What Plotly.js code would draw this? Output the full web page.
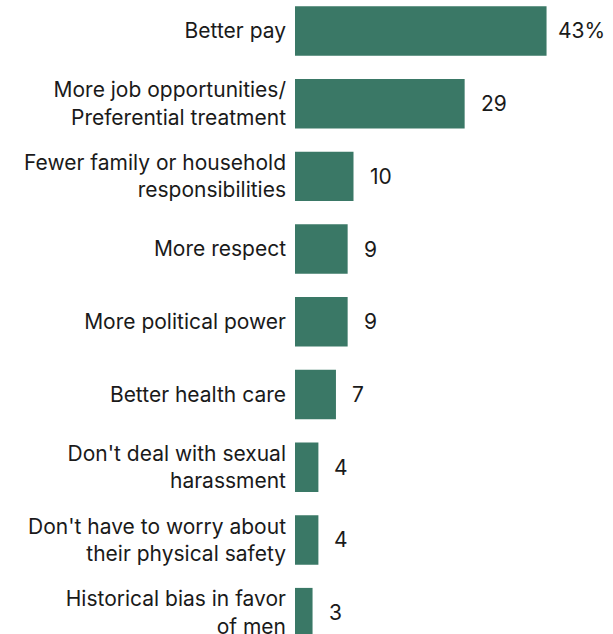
<!DOCTYPE html>
<html><head><meta charset="utf-8">
<script src="https://cdn.plot.ly/plotly-3.0.1.min.js"></script>
<style>html,body{margin:0;padding:0;background:#fff}#chart{width:613px;height:634px}</style>
</head><body><div id="chart"></div>
<script>
const categories = [
  "Better pay",
  "More job opportunities/<br>Preferential treatment",
  "Fewer family or household<br>responsibilities",
  "More respect",
  "More political power",
  "Better health care",
  "Don't deal with sexual<br>harassment",
  "Don't have to worry about<br>their physical safety",
  "Historical bias in favor<br>of men"
];
const values = [43, 29, 10, 9, 9, 7, 4, 4, 3];
const valueLabels = ["43%", "29", "10", "9", "9", "7", "4", "4", "3"];

const FONT = "Inter, Liberation Sans, Arial, sans-serif";
const trace = {
  type: "bar", orientation: "h",
  x: values, y: categories,
  marker: {color: "#3a7866"},
  hoverinfo: "none"
};
const annotations = values.map((v, i) => ({
  x: v, y: categories[i], xref: "x", yref: "y",
  text: valueLabels[i], showarrow: false,
  xanchor: "left", xshift: i === 0 ? 9 : 14,
  font: {family: FONT, size: 21, color: "#1a1a1a"}
}));
const layout = {
  width: 613, height: 634,
  margin: {l: 295, r: 0, t: 0, b: 0, pad: 0},
  paper_bgcolor: "#fff", plot_bgcolor: "#fff",
  bargap: 0.32,
  showlegend: false,
  xaxis: {range: [0, 54.36], visible: false, fixedrange: true},
  yaxis: {
    type: "category",
    range: [8.294, -0.426],
    showgrid: false, zeroline: false, showline: false, ticks: "",
    ticklabelstandoff: 8,
    tickfont: {family: FONT, size: 21, color: "#1a1a1a"},
    fixedrange: true
  },
  annotations: annotations,
  font: {family: FONT}
};
Plotly.newPlot("chart", [trace], layout, {displayModeBar: false, staticPlot: true});
</script></body></html>
